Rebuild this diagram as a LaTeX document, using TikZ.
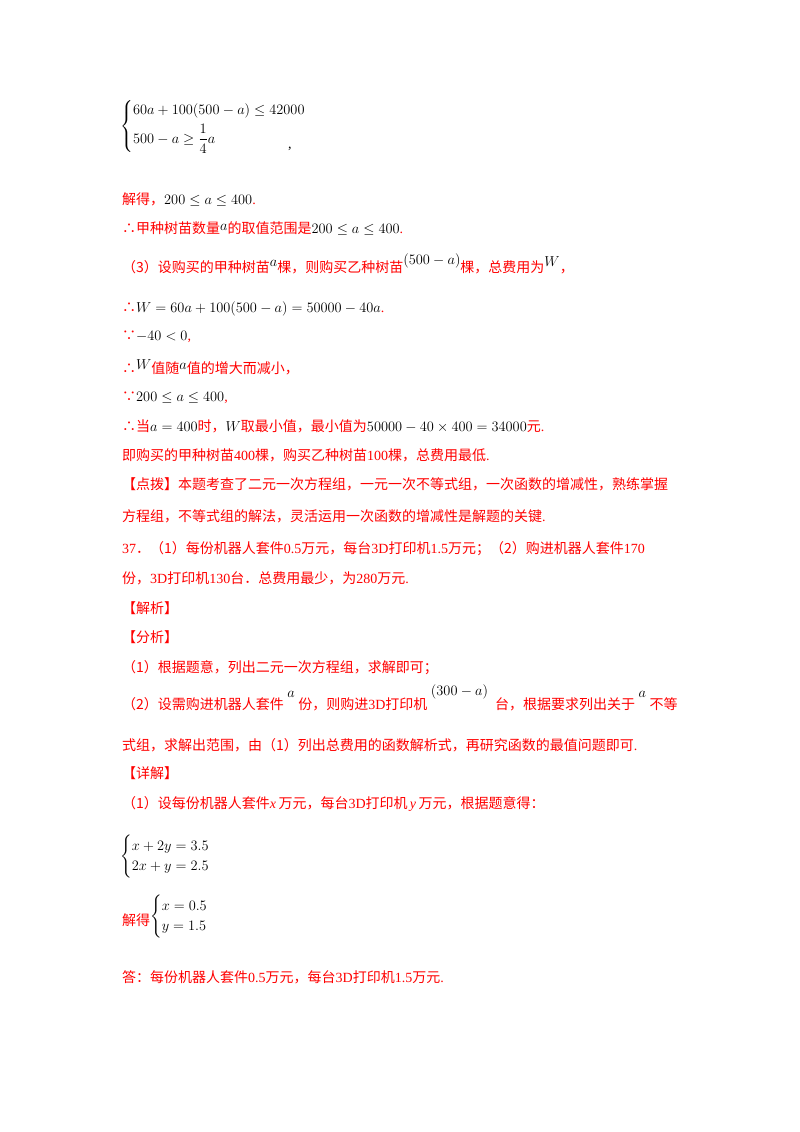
\documentclass[tikz,border=0pt]{standalone}
\usepackage{fontspec}
\setmainfont{Liberation Serif}
\newfontfamily\cjk{Noto Sans CJK SC}
\usepackage{amsmath}
\newcommand{\zh}[1]{{\cjk #1}}
\begin{document}
\begin{tikzpicture}[x=1pt,y=-1pt,
  ln/.style={anchor=base west,inner sep=0pt,font=\fontsize{14}{17}\selectfont,text=red},
  mt/.style={anchor=base west,inner sep=0pt,font=\fontsize{14}{17}\selectfont,text=black}]
\fill[white] (0,0) rectangle (800,1132);
\path[use as bounding box] (0,0) rectangle (800,1132);
\node[mt] (s1) at (120,130) {$\begin{cases}60a+100(500-a)\le 42000\\[4pt] 500-a\ge \dfrac14 a\end{cases}$};
\node[mt] (c1) at (288,148) {,};
\node[ln] (l1) at (122,204) {\zh{解得，}\textcolor{black}{$200\le a\le 400$}.};
\node[ln] (l2) at (122,233) {\zh{∴甲种树苗数量}\textcolor{black}{\raisebox{3pt}{$a$}}\zh{的取值范围是}\textcolor{black}{$200\le a\le 400$}.};
\node[ln] (l3) at (122,272) {\zh{（3）设购买的甲种树苗}\textcolor{black}{\raisebox{6pt}{$a$}}\zh{棵，则购买乙种树苗}\textcolor{black}{\raisebox{8pt}{$(500-a)$}}\zh{棵，总费用为}\textcolor{black}{\raisebox{6pt}{$W$}}\zh{，}};
\node[ln] (l4) at (122,312) {\zh{∴}\textcolor{black}{$W=60a+100(500-a)=50000-40a$}.};
\node[ln] (l5) at (122,340) {\zh{∵}\textcolor{black}{$-40<0$},};
\node[ln] (l6) at (122,373) {\zh{∴}\textcolor{black}{\raisebox{4pt}{$W$}}\zh{值随}\textcolor{black}{\raisebox{4pt}{$a$}}\zh{值的增大而减小，}};
\node[ln] (l7) at (122,401) {\zh{∵}\textcolor{black}{$200\le a\le 400$},};
\node[ln] (l8) at (122,431) {\zh{∴当}\textcolor{black}{$a=400$}\zh{时，}\textcolor{black}{$W$}\zh{取最小值，最小值为}\textcolor{black}{$50000-40\times400=34000$}\zh{元}.};
\node[ln] (l9) at (122,460) {\zh{即购买的甲种树苗}400\zh{棵，购买乙种树苗}100\zh{棵，总费用最低}.};
\node[ln] (l10) at (122,489) {\zh{【点拨】本题考查了二元一次方程组，一元一次不等式组，一次函数的增减性，熟练掌握}};
\node[ln] (l11) at (122,521) {\zh{方程组，不等式组的解法，灵活运用一次函数的增减性是解题的关键}.};
\node[ln] (l12) at (122,553) {37\zh{．（1）每份机器人套件}0.5\zh{万元，每台}3D\zh{打印机}1.5\zh{万元；（2）购进机器人套件}170};
\node[ln] (l13) at (122,583) {\zh{份，}3D\zh{打印机}130\zh{台．总费用最少，为}280\zh{万元}.};
\node[ln] (l14) at (122,613) {\zh{【解析】}};
\node[ln] (l15) at (122,642) {\zh{【分析】}};
\node[ln] (l16) at (122,672) {\zh{（1）根据题意，列出二元一次方程组，求解即可；}};
\node[ln] (l17) at (122,709) {\zh{（2）设需购进机器人套件}\textcolor{black}{\raisebox{12pt}{~$a$~}}\zh{份，则购进}3D\zh{打印机}\textcolor{black}{\raisebox{14pt}{~$(300-a)$~~}}\zh{台，根据要求列出关于}\textcolor{black}{\raisebox{12pt}{~$a$~}}\zh{不等}};
\node[ln] (l18) at (122,750) {\zh{式组，求解出范围，由（1）列出总费用的函数解析式，再研究函数的最值问题即可}.};
\node[ln] (l19) at (122,778) {\zh{【详解】}};
\node[ln] (l20) at (122,808) {\zh{（1）设每份机器人套件}\textit{x}\,\zh{万元，每台}3D\zh{打印机}\,\textit{y}\,\zh{万元，根据题意得：}};
\node[mt] (s2) at (120,860) {$\begin{cases}x+2y=3.5\\ 2x+y=2.5\end{cases}$};
\node[ln] (l21) at (122,925) {\zh{解得}};
\node[mt] (s3) at (150,920) {$\begin{cases}x=0.5\\ y=1.5\end{cases}$};
\node[ln] (l22) at (122,982) {\zh{答：每份机器人套件}0.5\zh{万元，每台}3D\zh{打印机}1.5\zh{万元}.};
\end{tikzpicture}
\end{document}
